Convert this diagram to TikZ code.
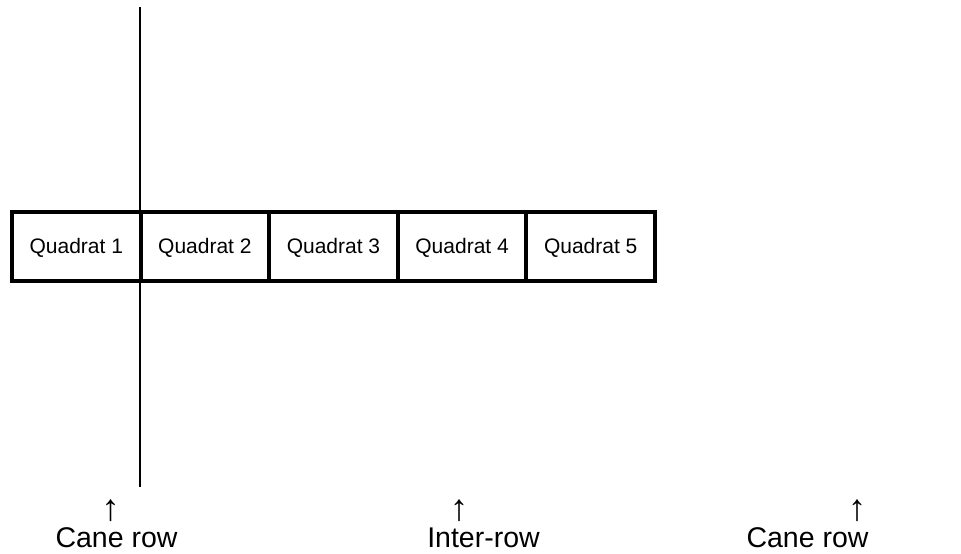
\documentclass[tikz,border=0pt]{standalone}
\usepackage{fontspec}
\setmainfont{Liberation Sans}
\begin{document}
\begin{tikzpicture}[x=1pt,y=-1pt,
  cell/.style={draw, line width=4pt, minimum width=128.6pt, minimum height=69pt,
    inner sep=0pt, outer sep=0pt, anchor=north west},
  cellText/.style={anchor=base, font=\fontsize{21}{24}\selectfont, inner sep=0pt},
  rowLabel/.style={anchor=base, font=\fontsize{28.5}{32}\selectfont, inner sep=0pt,
    text height=21pt, text depth=0pt},
  upMark/.style={anchor=base, font=\fontsize{37}{40}\selectfont, inner sep=0pt,
    text height=25pt, text depth=0pt}]
  \useasboundingbox (0,0) rectangle (961,554);
  % row line
  \coordinate (lineTop) at (140,7);
  \coordinate (lineBot) at (140,487);
  \draw[line width=2pt] (lineTop) -- (lineBot);
  % quadrat strip
  \foreach \i in {1,...,5} {
    \node[cell] (q\i) at ({12+128.6*(\i-1)},212) {};
    \node[cellText] (t\i) at ({12+128.6*(\i-1)+64.3},253.5) {Quadrat \i};
  }
  % labels
  \node[upMark] (a1) at (110.5,520) {↑};
  \node[upMark] (a2) at (459,520) {↑};
  \node[upMark] (a3) at (857,520) {↑};
  \node[rowLabel] (l1) at (116.5,547) {Cane row};
  \node[rowLabel] (l2) at (483.5,547) {Inter-row};
  \node[rowLabel] (l3) at (807.5,547) {Cane row};
\end{tikzpicture}
\end{document}
